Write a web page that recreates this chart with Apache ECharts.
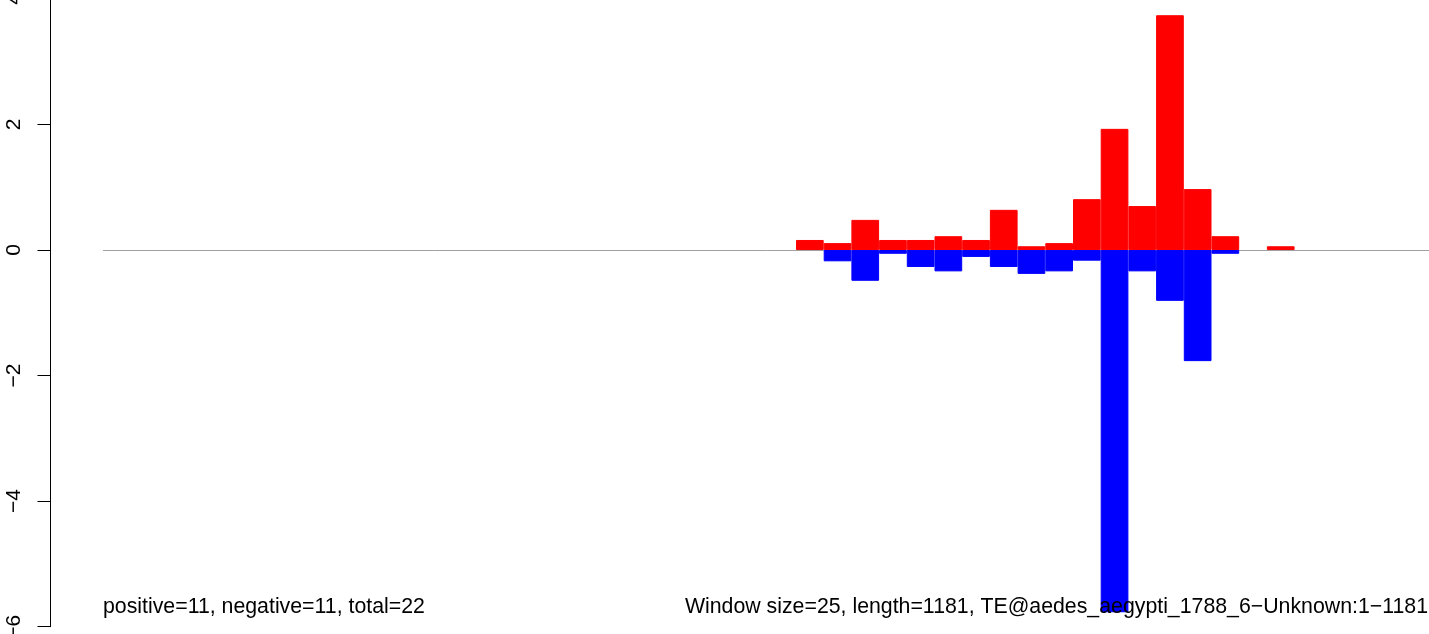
<!DOCTYPE html>
<html>
<head>
<meta charset="utf-8">
<script src="https://cdn.jsdelivr.net/npm/echarts@6/dist/echarts.min.js"></script>
<style>
html, body { margin: 0; padding: 0; background: #fff; }
#main { width: 1429px; height: 634px; }
</style>
</head>
<body>
<div id="main"></div>
<script>
var chartDom = document.getElementById('main');
var myChart = echarts.init(chartDom);
var option;

let windowSize = 25
let seqLength = 1181
let nbBins = 48
// window start positions (one bar per window)
let bins = []
for (var i = 0; i < nbBins; i++) {
  bins.push(i * windowSize + 1)
}

// null = empty window (nothing drawn)
let positive = [
  null, null, null, null, null, null, null, null, null, null,
  null, null, null, null, null, null, null, null, null, null,
  null, null, null, null, null, 0.16, 0.11, 0.48, 0.16, 0.16,
  0.22, 0.16, 0.64, 0.06, 0.11, 0.81, 1.93, 0.70, 3.74, 0.97,
  0.22, null, 0.06, null, null, null, null, null
]
let negative = [
  null, null, null, null, null, null, null, null, null, null,
  null, null, null, null, null, null, null, null, null, null,
  null, null, null, null, null, null, -0.18, -0.49, -0.06, -0.27,
  -0.34, -0.11, -0.27, -0.38, -0.34, -0.17, -5.77, -0.34, -0.81, -1.77,
  -0.06, null, null, null, null, null, null, null
]
let yTicks = { min: -6, max: 4, step: 2 }

let leftNote = 'positive=11, negative=11, total=22'
let rightNote = 'Window size=' + windowSize + ', length=' + seqLength +
  ', TE@aedes_aegypti_1788_6\u2212Unknown:1\u2212' + seqLength

let font = '"Liberation Sans", Arial, Helvetica, sans-serif'

option = {
  animation: false,
  grid: {
    left: 103.5,
    right: -4.1,
    top: -1.1,
    bottom: 7.3,
    outerBoundsMode: 'none'
  },
  xAxis: {
    type: 'category',
    data: bins,
    axisLine: { show: true, onZero: true, lineStyle: { color: '#a0a0a0', width: 1 } },
    axisTick: { show: false },
    axisLabel: { show: false },
    splitLine: { show: false }
  },
  yAxis: {
    type: 'value',
    min: yTicks.min,
    max: yTicks.max,
    interval: yTicks.step,
    offset: 53,
    axisLine: { show: true, lineStyle: { color: '#000', width: 1 } },
    axisTick: { show: true, length: 13, lineStyle: { color: '#000', width: 1 } },
    splitLine: { show: false },
    axisLabel: {
      rotate: 90,
      margin: 26,
      fontSize: 21,
      fontFamily: font,
      color: '#000',
      formatter: function (v) { return String(v).replace('-', '\u2212') }
    }
  },
  series: [
    {
      type: 'bar',
      data: positive,
      barGap: '-100%',
      barCategoryGap: 0,
      itemStyle: { color: '#ff0000', borderColor: '#ff0000', borderWidth: 1 }
    },
    {
      type: 'bar',
      data: negative,
      barGap: '-100%',
      barCategoryGap: 0,
      itemStyle: { color: '#0000ff', borderColor: '#0000ff', borderWidth: 1 }
    }
  ],
  graphic: [
    {
      type: 'text',
      left: 103,
      top: 597,
      z: 100,
      style: { text: leftNote, font: '21.3px ' + font, fill: '#000' }
    },
    {
      type: 'text',
      right: 1,
      top: 597,
      z: 100,
      style: { text: rightNote, font: '21.3px ' + font, fill: '#000' }
    }
  ]
};

option && myChart.setOption(option);
</script>
</body>
</html>
